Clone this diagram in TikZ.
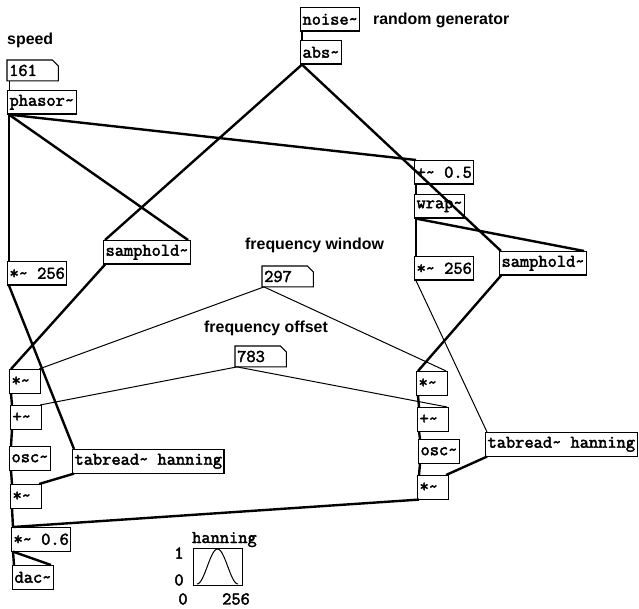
\documentclass[tikz,border=0pt]{standalone}
\usepackage{fontspec}
\setsansfont{Liberation Sans}
\newfontfamily\pdfont[FakeBold=2.4]{Latin Modern Mono}
\usetikzlibrary{positioning}
\newcommand{\sig}{\textasciitilde}

\begin{document}
\begin{tikzpicture}[x=1pt, y=-1pt,
  obj/.style={draw, line width=1.1pt, anchor=north west, inner xsep=2pt, inner ysep=0pt,
    minimum height=23.5pt, font=\pdfont\fontsize{17.9}{20}\selectfont},
  sm/.style={obj, text width=27pt, align=left},
  num/.style={anchor=north west, inner xsep=2pt, inner ysep=0pt, minimum height=20.5pt,
    text width=47pt, align=left, font=\pdfont\fontsize{17.9}{20}\selectfont},
  cmt/.style={anchor=base west, inner sep=0pt, font=\sffamily\bfseries\fontsize{15.9}{18}\selectfont},
  lbl/.style={inner sep=0pt, font=\pdfont\fontsize{17.9}{20}\selectfont},
  sigl/.style={line width=2.4pt},
  ctl/.style={line width=1pt}]
\path[use as bounding box, fill=white] (0,0) rectangle (639,609);

% comments
\node[cmt] (tspeed) at (7,45) {speed};
\node[cmt] (tnoise) at (373,25) {random generator};
\node[cmt] (twin) at (245,250) {frequency window};
\node[cmt] (toff) at (204,332) {frequency offset};

% number boxes
\node[num] (spd) at (7,60) {161};
\node[num] (win) at (262,266) {297};
\node[num] (off) at (235,346) {783};
\foreach \n in {spd,win,off}
  \draw[line width=1.1pt] (\n.north west) -- ([xshift=-6pt]\n.north east) -- ([yshift=-6pt]\n.north east)
    -- (\n.south east) -- (\n.south west) -- cycle;

% objects, left voice
\node[obj] (noise) at (300,7) {noise\sig};
\node[obj] (abs) at (300,40) {abs\sig};
\node[obj] (phasor) at (7,90) {phasor\sig};
\node[obj] (sh1) at (103,240) {samphold\sig};
\node[obj] (mula) at (7,261) {*\sig{} 256};
\node[sm] (ma) at (9,369) {*\sig};
\node[sm] (pa) at (10,405) {+\sig};
\node[obj] (osca) at (9,446) {osc\sig};
\node[obj] (taba) at (72,449) {tabread\sig{} hanning};
\node[sm] (mb) at (10,484) {*\sig};
\node[obj] (vol) at (11,527) {*\sig{} 0.6};
\node[obj] (dac) at (12,565) {dac\sig};

% objects, right voice
\node[obj] (half) at (414,160) {+\sig{} 0.5};
\node[obj] (wrap) at (414,194) {wrap\sig};
\node[obj] (mulb) at (414,256) {*\sig{} 256};
\node[obj] (sh2) at (499,251) {samphold\sig};
\node[sm] (mc) at (416,371) {*\sig};
\node[sm] (pb) at (417,407) {+\sig};
\node[obj] (oscb) at (418,439) {osc\sig};
\node[obj] (tabb) at (485,432) {tabread\sig{} hanning};
\node[sm] (md) at (417,475) {*\sig};

% table
\node[lbl, anchor=base west] (tname) at (192,543) {hanning};
\node[draw, line width=1.1pt, anchor=north west, inner sep=0pt, minimum width=49pt, minimum height=37pt] (graph) at (193,548) {};
\draw[line width=1pt] plot[domain=0:1, samples=40, smooth] ({197+41*\x}, {584-35*(sin(180*\x))^2});
\node[lbl] (ytop) at (179,553) {1};
\node[lbl] (ybot) at (179,580) {0};
\node[lbl] (xmin) at (183,599) {0};
\node[lbl] (xmax) at (236,599) {256};

% connections
\draw[ctl] ([xshift=2pt]spd.south west) -- ([xshift=2pt]phasor.north west);
\draw[sigl] ([xshift=2pt]noise.south west) -- ([xshift=2pt]abs.north west);
\draw[sigl] ([xshift=2pt]phasor.south west) -- ([xshift=2pt]mula.north west);
\draw[sigl] ([xshift=2pt]phasor.south west) -- ([xshift=-3pt]sh1.north east);
\draw[sigl] ([xshift=2pt]phasor.south west) -- ([xshift=2pt]half.north west);
\draw[sigl] ([xshift=2pt]abs.south west) -- ([xshift=2pt]sh1.north west);
\draw[sigl] ([xshift=2pt]abs.south west) -- ([xshift=2pt]sh2.north west);
\draw[sigl] ([xshift=2pt]half.south west) -- ([xshift=2pt]wrap.north west);
\draw[sigl] ([xshift=2pt]wrap.south west) -- ([xshift=2pt]mulb.north west);
\draw[sigl] ([xshift=2pt]wrap.south west) -- ([xshift=-3pt]sh2.north east);
\draw[sigl] ([xshift=2pt]sh1.south west) -- ([xshift=2pt]ma.north west);
\draw[sigl] ([xshift=2pt]mula.south west) -- ([xshift=2pt]taba.north west);
\draw[ctl] ([xshift=2pt]win.south west) -- ([xshift=-2pt]ma.north east);
\draw[ctl] ([xshift=2pt]win.south west) -- ([xshift=-2pt]mc.north east);
\draw[ctl] ([xshift=2pt]off.south west) -- ([xshift=-2pt]pa.north east);
\draw[ctl] ([xshift=2pt]off.south west) -- ([xshift=-2pt]pb.north east);
\draw[sigl] ([xshift=2pt]ma.south west) -- ([xshift=2pt]pa.north west);
\draw[sigl] ([xshift=2pt]pa.south west) -- ([xshift=2pt]osca.north west);
\draw[sigl] ([xshift=2pt]osca.south west) -- ([xshift=2pt]mb.north west);
\draw[sigl] ([xshift=2pt]taba.south west) -- ([xshift=-3pt]mb.north east);
\draw[sigl] ([xshift=2pt]mb.south west) -- ([xshift=2pt]vol.north west);
\draw[sigl] ([xshift=2pt]sh2.south west) -- ([xshift=2pt]mc.north west);
\draw[ctl] ([xshift=2pt]mulb.south west) -- ([xshift=2pt]tabb.north west);
\draw[sigl] ([xshift=2pt]mc.south west) -- ([xshift=2pt]pb.north west);
\draw[sigl] ([xshift=2pt]pb.south west) -- ([xshift=2pt]oscb.north west);
\draw[sigl] ([xshift=2pt]oscb.south west) -- ([xshift=2pt]md.north west);
\draw[sigl] ([xshift=2pt]tabb.south west) -- ([xshift=-3pt]md.north east);
\draw[sigl] ([xshift=2pt]md.south west) -- ([xshift=2pt]vol.north west);
\draw[sigl] ([xshift=2pt]vol.south west) -- ([xshift=2pt]dac.north west);
\draw[sigl] ([xshift=2pt]vol.south west) -- ([xshift=-3pt]dac.north east);
\end{tikzpicture}
\end{document}
